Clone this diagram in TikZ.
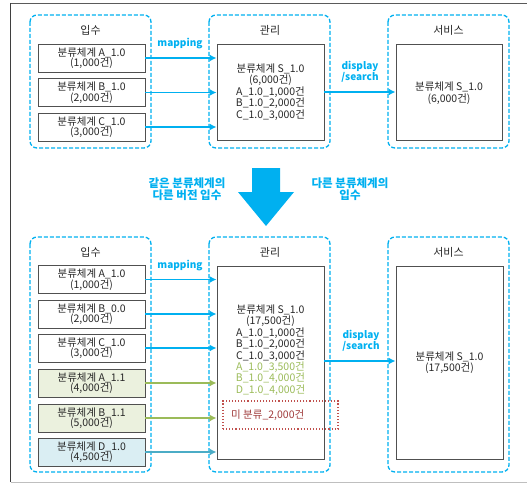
\documentclass[tikz,border=0pt]{standalone}
\usepackage{fontspec}
\setmainfont{Noto Sans CJK KR}
\usetikzlibrary{arrows.meta}
\definecolor{cy}{RGB}{0,176,240}
\definecolor{grn}{RGB}{155,187,89}
\definecolor{teal}{RGB}{75,172,198}
\definecolor{gfill}{RGB}{235,241,222}
\definecolor{bfill}{RGB}{218,238,243}
\definecolor{redd}{RGB}{192,80,77}
\definecolor{redt}{RGB}{160,60,60}
\definecolor{frame}{RGB}{90,90,90}
\definecolor{bx}{RGB}{80,80,80}
\definecolor{tx}{RGB}{40,40,40}
\tikzset{
  grp/.style={draw=cy, line width=1.3pt, dash pattern=on 4pt off 2pt, rounded corners=7pt},
  inbox/.style={draw=bx, line width=0.9pt, fill=white, minimum width=107pt, minimum height=28pt, inner sep=0pt, align=center, text=tx, font=\fontsize{10.5}{10.5}\selectfont},
  bigbox/.style={draw=bx, line width=0.9pt, minimum width=107pt, inner sep=0pt},
  ttl/.style={text=tx, font=\fontsize{11}{12}\selectfont},
  txt/.style={align=center, text=tx, font=\fontsize{10.5}{11.4}\selectfont, inner sep=0pt},
  arr/.style={draw=cy, line width=1.3pt, -{Latex[length=7pt,width=7pt]}},
  garr/.style={draw=grn, line width=1.3pt, -{Latex[length=7pt,width=7pt]}},
  tarr/.style={draw=teal, line width=1.3pt, -{Latex[length=7pt,width=7pt]}},
  lbl/.style={text=cy, font=\fontsize{10}{10.5}\selectfont\bfseries, align=center, inner sep=0pt},
  klbl/.style={text=cy, font=\fontsize{11.5}{12}\selectfont\bfseries, align=center, inner sep=0pt},
}
\begin{document}
\begin{tikzpicture}[x=1pt,y=-1pt]
\useasboundingbox (0,0) rectangle (527,484);
% outer frame
\draw[frame, line width=0.9pt] (10.5,3) -- (527,3);
\draw[frame!70!black, line width=1pt] (10.5,3) -- (10.5,482);
\draw[black!25, line width=1pt] (10.5,482) -- (527,482);

% ===== TOP =====
\draw[grp] (30,15) rectangle (151,148);
\draw[grp] (209,15) rectangle (330,148);
\draw[grp] (388,15) rectangle (509,148);
\node[ttl] (t1) at (90.5,30) {입수};
\node[ttl] (t2) at (270,30) {관리};
\node[ttl] (t3) at (448.5,30) {서비스};

\node[inbox] (a1) at (91.5,58) {분류체계 A\_1.0\\(1,000건)};
\node[inbox] (b1) at (91.5,92.5) {분류체계 B\_1.0\\(2,000건)};
\node[inbox] (c1) at (91.5,127) {분류체계 C\_1.0\\(3,000건)};

\node[bigbox, minimum height=96pt] (m1) at (270.5,92) {};
\node[txt] (m1t) at (270.5,92) {분류체계 S\_1.0\\(6,000건)\\A\_1.0\_1,000건\\B\_1.0\_2,000건\\C\_1.0\_3,000건};
\node[bigbox, minimum width=106pt, minimum height=96pt] (s1) at (449,92) {};
\node[txt] (s1t) at (449,93) {분류체계 S\_1.0\\(6,000건)};

\draw[arr] (a1.east) -- (a1.east -| m1.west);
\draw[arr] (b1.east) -- (b1.east -| m1.west);
\draw[arr] (c1.east) -- (c1.east -| m1.west);
\draw[arr] (m1.east) -- (s1.west);
\node[lbl] (map1) at (180,44) {mapping};
\node[lbl] (ds1) at (360,72) {display\\/search};

% ===== MIDDLE =====
\fill[cy] (252,168) -- (280,168) -- (280,192) -- (294,192) -- (266,226) -- (238,192) -- (252,192) -- cycle;
\node[klbl] (l1) at (187,189) {같은 분류체계의\\다른 버전 입수};
\node[klbl] (l2) at (350,189) {다른 분류체계의\\입수};

% ===== BOTTOM =====
\draw[grp] (30,237) rectangle (151,472);
\draw[grp] (209,237) rectangle (330,472);
\draw[grp] (388,237) rectangle (509,472);
\node[ttl] (t4) at (90.5,252) {입수};
\node[ttl] (t5) at (270,252) {관리};
\node[ttl] (t6) at (448.5,252) {서비스};

\node[inbox] (a2) at (91.5,279.5) {분류체계 A\_1.0\\(1,000건)};
\node[inbox] (b2) at (91.5,314) {분류체계 B\_0.0\\(2,000건)};
\node[inbox] (c2) at (91.5,348) {분류체계 C\_1.0\\(3,000건)};
\node[inbox, fill=gfill] (a3) at (91.5,383) {분류체계 A\_1.1\\(4,000건)};
\node[inbox, fill=gfill] (b3) at (91.5,418) {분류체계 B\_1.1\\(5,000건)};
\node[inbox, fill=bfill] (d2) at (91.5,452) {분류체계 D\_1.0\\(4,500건)};

\node[bigbox, minimum height=193pt] (m2) at (270.5,362.5) {};
\node[txt] (m2t) at (270.5,350) {분류체계 S\_1.0\\(17,500건)\\A\_1.0\_1,000건\\B\_1.0\_2,000건\\C\_1.0\_3,000건\\\textcolor{grn}{A\_1.0\_3,500건}\\\textcolor{grn}{B\_1.0\_4,000건}\\\textcolor{grn}{D\_1.0\_4,000건}};
\node[draw=redd, line width=1.1pt, dotted, minimum width=115pt, minimum height=28pt, inner sep=0pt] (un) at (280.5,415) {};
\node[anchor=west, text=redt, font=\fontsize{10.5}{11}\selectfont, inner sep=0pt] (unt) at (231,415) {미 분류\_2,000건};
\node[bigbox, minimum width=107pt, minimum height=193pt] (s2) at (449.5,362.5) {};
\node[txt] (s2t) at (449.5,362.5) {분류체계 S\_1.0\\(17,500건)};

\draw[arr] (a2.east) -- (a2.east -| m2.west);
\draw[arr] (b2.east) -- (b2.east -| m2.west);
\draw[arr] (c2.east) -- (c2.east -| m2.west);
\draw[garr] (a3.east) -- (a3.east -| m2.west);
\draw[garr] (b3.east) -- (b3.east -| m2.west);
\draw[tarr] (d2.east) -- (d2.east -| m2.west);
\draw[arr] (m2.east) ++(0,-1.5) coordinate (m2e) (m2e) -- (m2e -| s2.west);
\node[lbl] (map2) at (180,266) {mapping};
\node[lbl] (ds2) at (361,341) {display\\/search};
\end{tikzpicture}
\end{document}
